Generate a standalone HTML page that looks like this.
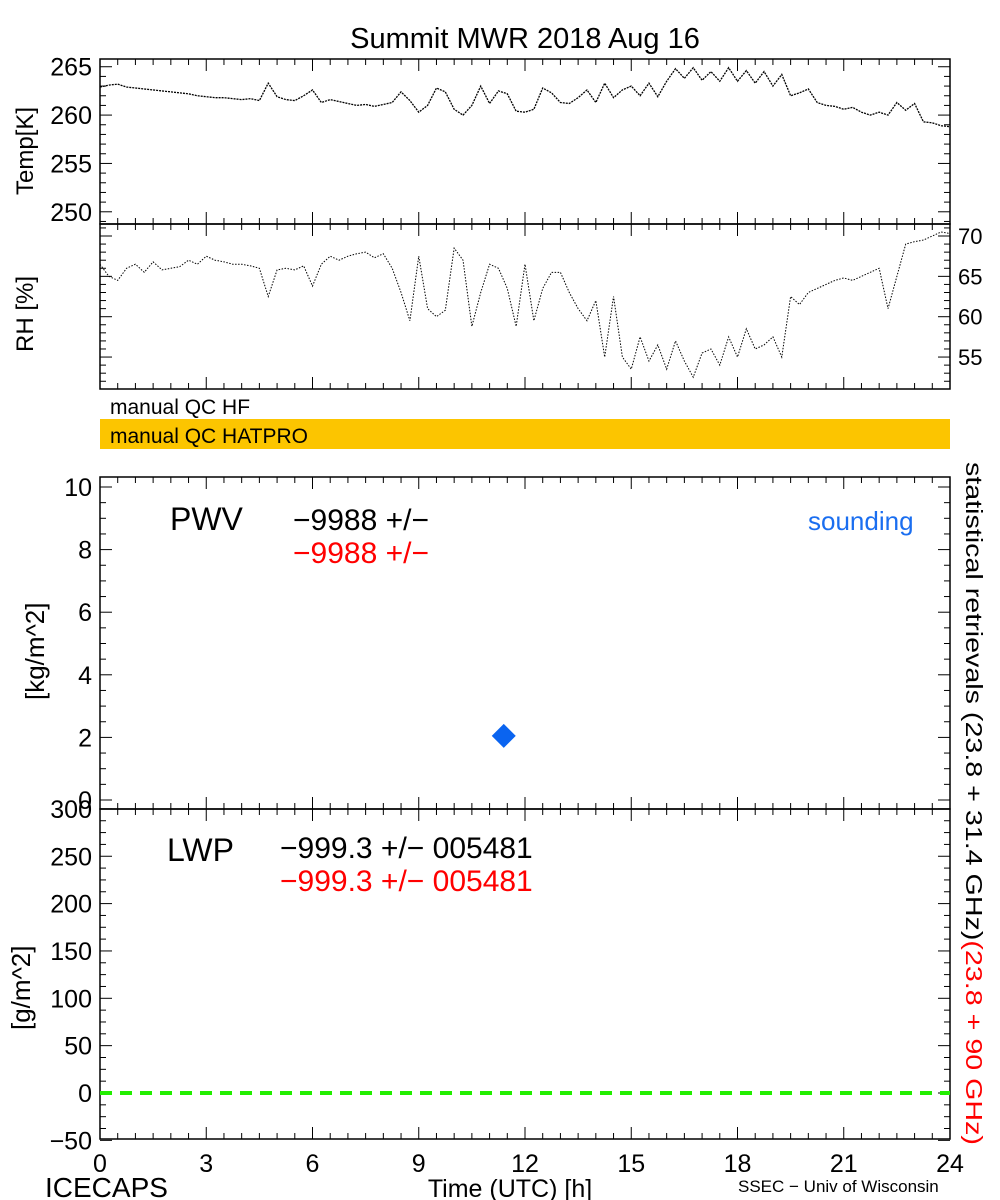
<!DOCTYPE html>
<html><head><meta charset="utf-8"><style>
body{margin:0;background:#fff;}
svg{display:block;font-family:"Liberation Sans",sans-serif;}
</style></head><body>
<svg id="c" width="1000" height="1200" viewBox="0 0 1000 1200">
<rect width="1000" height="1200" fill="#fff"/>
<text x="525" y="48" font-size="29" text-anchor="middle">Summit MWR 2018 Aug 16</text>
<g id="g"></g>
</svg>
<script>
const hours = [];
for (let i = 0; i <= 96; i++) hours.push(i * 0.25);
const tempK = [262.9,263.1,263.2,262.9,262.8,262.7,262.6,262.5,262.4,262.3,262.2,262.0,261.9,261.8,261.8,261.7,261.6,261.7,261.5,263.3,
261.9,261.6,261.5,262.0,262.6,261.3,261.6,261.4,261.2,261.0,261.1,260.9,261.1,261.3,262.4,261.5,260.3,261.0,262.8,262.4,
260.6,260.0,261.0,263.0,261.2,262.5,262.2,260.4,260.3,260.6,262.8,262.3,261.3,261.2,261.8,262.6,261.3,263.3,261.8,262.6,
263.0,262.0,263.3,261.9,263.5,264.8,263.8,264.9,263.6,264.5,263.5,264.9,263.5,264.6,263.3,264.5,263.0,264.2,262.0,262.3,
262.7,261.3,261.0,260.9,260.6,260.8,260.3,260.0,260.3,260.0,261.3,260.5,261.2,259.3,259.2,258.9,258.8];
const rhPct = [66.5,65.0,64.5,66.0,66.5,65.5,66.8,65.8,66.0,66.2,67.0,66.5,67.5,67.0,66.8,66.5,66.5,66.3,66.0,62.5,
65.8,66.0,65.8,66.3,63.8,66.5,67.5,67.0,67.5,67.8,68.0,67.3,67.8,66.0,63.0,59.5,67.5,61.0,60.0,60.8,
68.5,67.0,58.8,63.0,66.5,66.0,63.5,58.8,66.5,59.5,63.5,65.5,65.5,63.0,61.0,59.5,62.0,55.0,62.5,55.0,
53.5,57.5,54.5,56.5,53.5,57.0,54.5,52.5,55.5,56.0,54.0,57.5,55.0,58.5,56.0,56.5,57.5,55.0,62.5,61.5,
63.0,63.5,64.0,64.5,64.8,64.5,65.0,65.5,66.0,61.0,65.0,69.0,69.3,69.5,70.0,70.5,70.3];
const soundingHour = [11.4];
const soundingPwv = [2.05];
const lwpZero = [0];
const xTickLabels = ["0","3","6","9","12","15","18","21","24"];
const tempTicks = [250,255,260,265];
const rhTicks = [55,60,65,70];
const pwvTicks = [0,2,4,6,8,10];
const lwpTicks = [-50,0,50,100,150,200,250,300];

const NS="http://www.w3.org/2000/svg";
const G=document.getElementById('g');
function mk(tag,attrs,parent){const e=document.createElementNS(NS,tag);for(const k in attrs)e.setAttribute(k,attrs[k]);(parent||G).appendChild(e);return e;}
const X0=100,X1=950;
const xs=h=>X0+h*(X1-X0)/24;
const yT=t=>59+(265.8-t)*9.67;
const yR=r=>236+(70-r)*8.07;
const yP=p=>800-p*31.3;
const yL=v=>1093-v*0.947;

function frame(top,bot,name){
  const r=mk('rect',{x:X0,y:top,width:X1-X0,height:bot-top,fill:'none',stroke:'#000','stroke-width':1.5});
  
  
  for(let h=0;h<=24;h+=0.5){
    const major=(h%3===0), L=major?12:6;
    mk('line',{x1:xs(h),x2:xs(h),y1:top,y2:top+L,stroke:'#000'});
    mk('line',{x1:xs(h),x2:xs(h),y1:bot,y2:bot-L,stroke:'#000'});
  }
}
function yticks(fn,lo,hi,minor,major,sides){
  for(let v=lo;v<=hi+1e-9;v+=minor){
    const mj=Math.abs(v/major-Math.round(v/major))<1e-6;const L=mj?12:6;const y=fn(v);
    if(sides.includes('l'))mk('line',{x1:X0,x2:X0+L,y1:y,y2:y,stroke:'#000'});
    if(sides.includes('r'))mk('line',{x1:X1,x2:X1-L,y1:y,y2:y,stroke:'#000'});
  }
}
frame(59,224,'temp-panel');
yticks(yT,249,265,1,5,'lr');
tempTicks.forEach(v=>{const t=mk('text',{x:92,y:yT(v)+9,'font-size':25,'text-anchor':'end'});t.textContent=v;

});
let pts=hours.map((h,i)=>xs(h)+','+yT(tempK[i])).join(' ');
const tl=mk('polyline',{points:pts,fill:'none',stroke:'#000','stroke-width':1.3,'stroke-dasharray':'2 1'});


frame(224,389,'rh-panel');
yticks(yR,52,71,1,5,'lr');
rhTicks.forEach(v=>{const t=mk('text',{x:958,y:yR(v)+8,'font-size':22});t.textContent=v;

});
pts=hours.map((h,i)=>xs(h)+','+yR(rhPct[i])).join(' ');
const rl=mk('polyline',{points:pts,fill:'none',stroke:'#000','stroke-width':1,'stroke-dasharray':'1.5 1.5'});


frame(477,809,'pwv-panel');
yticks(yP,0,10,0.5,2,'lr');
pwvTicks.forEach(v=>{const t=mk('text',{x:92,y:yP(v)+9,'font-size':25,'text-anchor':'end'});t.textContent=v;

});
soundingHour.forEach((h,i)=>{const cx=xs(h),cy=yP(soundingPwv[i]);
const d=mk('polygon',{points:`${cx},${cy-12} ${cx+12},${cy} ${cx},${cy+12} ${cx-12},${cy}`,fill:'#0a64f0'});

});
frame(809,1139,'lwp-panel');
yticks(yL,-50,300,12.5,50,'lr');
lwpTicks.forEach(v=>{const t=mk('text',{x:92,y:yL(v)+9,'font-size':25,'text-anchor':'end'});t.textContent=v<0?'\u2212'+(-v):v;

});
lwpZero.forEach(v=>{const l=mk('line',{x1:X0,x2:X1,y1:yL(v),y2:yL(v),stroke:'#22ee00','stroke-width':4,'stroke-dasharray':'12 8'});

});
xTickLabels.forEach((s,i)=>{const t=mk('text',{x:xs(i*3),y:1172,'font-size':25,'text-anchor':'middle'});t.textContent=s;

});
</script>
<div style="position:absolute;left:0;top:0;width:1000px;height:1200px;pointer-events:none">
<svg width="1000" height="1200" style="font-family:'Liberation Sans',sans-serif">
<text transform="translate(33,195) rotate(-90)" font-size="24">Temp[K]</text>
<text transform="translate(33,352) rotate(-90)" font-size="24">RH [%]</text>
<rect x="100" y="396" width="850" height="21" fill="#fff"/>
<text x="110" y="414" font-size="21">manual QC HF</text>
<rect x="100" y="419" width="850" height="30" fill="#fcc500"/>
<text x="110" y="443" font-size="21">manual QC HATPRO</text>
<text transform="translate(44,700) rotate(-90)" font-size="26">[kg/m^2]</text>
<text transform="translate(30,1030) rotate(-90)" font-size="26">[g/m^2]</text>
<text x="170" y="530" font-size="32">PWV</text>
<text x="293" y="530" font-size="30">−9988 +/−</text>
<text x="293" y="563" font-size="30" fill="#f00">−9988 +/−</text>
<text x="808" y="530" font-size="26" fill="#1a6ef0">sounding</text>
<text x="167" y="861" font-size="32">LWP</text>
<text x="280" y="858" font-size="30">−999.3 +/− 005481</text>
<text x="280" y="891" font-size="30" fill="#f00">−999.3 +/− 005481</text>
<text transform="translate(966,462) rotate(90)" font-size="23" textLength="683" lengthAdjust="spacingAndGlyphs">statistical retrievals (23.8 + 31.4 GHz)<tspan fill="#f00">(23.8 + 90 GHz)</tspan></text>
<text x="45" y="1197" font-size="28">ICECAPS</text>
<text x="510" y="1197" font-size="25" text-anchor="middle">Time (UTC) [h]</text>
<text x="738" y="1192" font-size="17">SSEC − Univ of Wisconsin</text>
</svg></div>
</body></html>
